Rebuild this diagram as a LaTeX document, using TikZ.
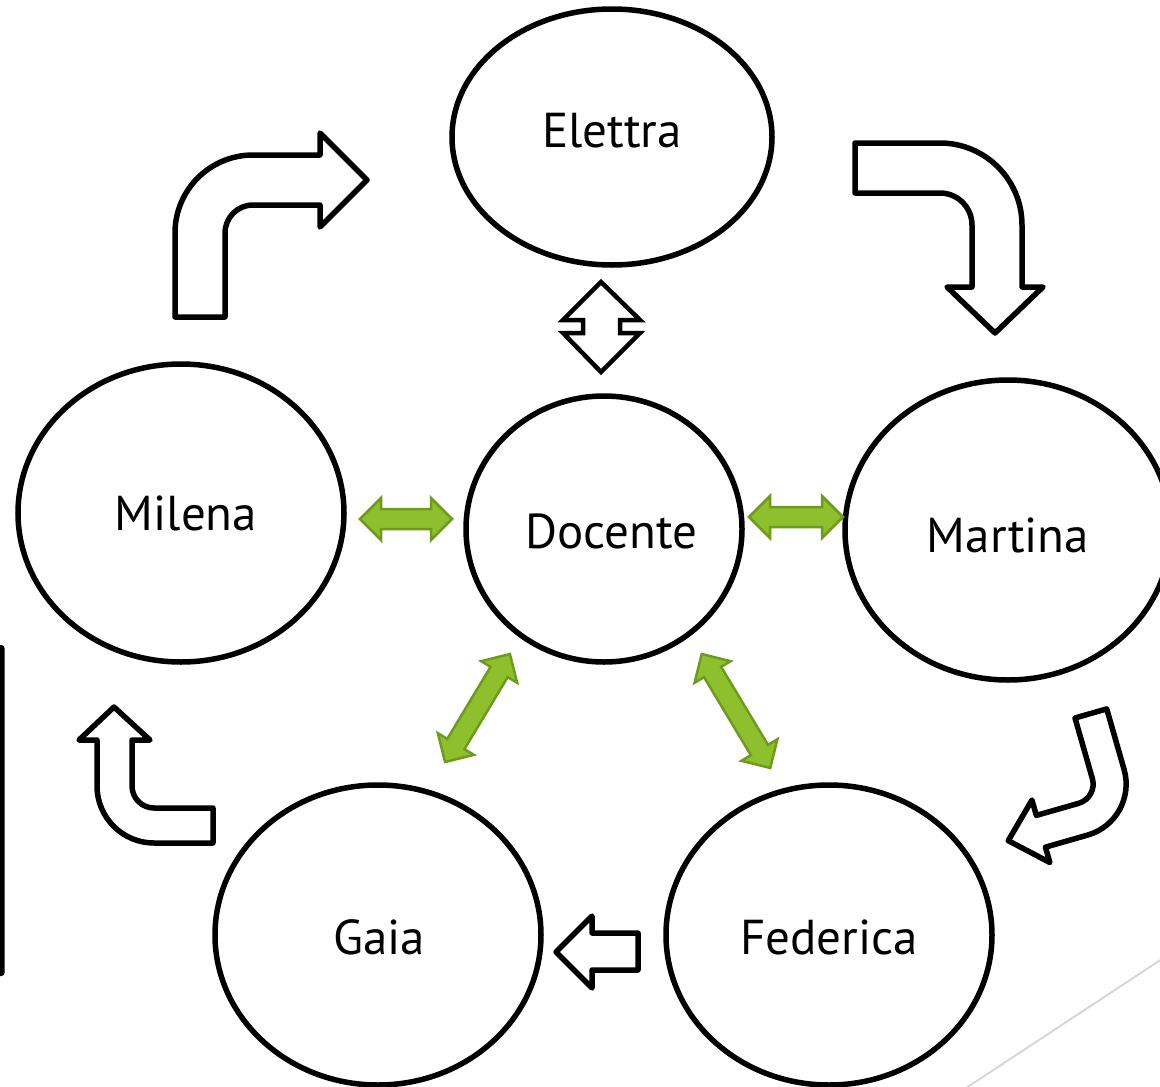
\documentclass[tikz,border=0pt]{standalone}
\usepackage{fontspec}
\setmainfont{PT Sans}
\usetikzlibrary{shapes.geometric}
\definecolor{gfill}{RGB}{141,192,44}
\definecolor{gedge}{RGB}{110,155,30}
\definecolor{decogrey}{RGB}{215,215,215}
\tikzset{
  person/.style={ellipse, draw=black, line width=5.5pt, fill=white, inner sep=0pt},
  nametext/.style={inner sep=0pt, font=\fontsize{49}{58}\selectfont},
  bentarrow/.style={draw=black, line width=5.5pt, line join=round, fill=white},
  garrow/.pic={
    \pgfmathsetmacro{\hl}{#1/2}
    \pgfmathsetmacro{\hb}{#1/2-21}
    \path[fill=gfill, draw=gedge, line width=2.5pt, line join=miter]
      (-\hl,0) -- (-\hb,-21) -- (-\hb,-10) -- (\hb,-10) -- (\hb,-21) -- (\hl,0)
      -- (\hb,21) -- (\hb,10) -- (-\hb,10) -- (-\hb,21) -- cycle;
  }
}
\begin{document}
\begin{tikzpicture}[x=1pt,y=-1pt]
\useasboundingbox (0,0) rectangle (1160,1087);
% theme decorations
\fill[black, rounded corners=3pt] (-6,645) rectangle (4.5,976);
\draw[decogrey, line width=2pt] (963,1090) -- (1165,957);

% people
\node[person, minimum width=320pt, minimum height=256pt] (ele) at (612,137) {};
\node[person, minimum width=276pt, minimum height=266pt] (doc) at (604,529) {};
\node[person, minimum width=326pt, minimum height=298pt] (mil) at (181,513) {};
\node[person, minimum width=326pt, minimum height=300pt] (mar) at (1008,530) {};
\node[person, minimum width=326pt, minimum height=300pt] (gai) at (378,935) {};
\node[person, minimum width=326pt, minimum height=300pt] (fed) at (829,935) {};
\node[nametext] (eleT) at (612,131) {Elettra};
\node[nametext] (docT) at (611,531) {Docente};
\node[nametext] (milT) at (186,513) {Milena};
\node[nametext] (marT) at (1008,535) {Martina};
\node[nametext] (gaiT) at (379,937) {Gaia};
\node[nametext] (fedT) at (829,937) {Federica};

% black cycle arrows
\path[bentarrow] (175,317) -- (175,233) arc[start angle=180,end angle=270,radius=78]
  -- (320,155) -- (320,133) -- (367,180) -- (320,227) -- (320,205) -- (253,205)
  arc[start angle=270,end angle=180,radius=28] -- (225,317) -- cycle;
\path[bentarrow] (855,143) -- (940,143) arc[start angle=270,end angle=360,radius=82]
  -- (1022,287) -- (1043,287) -- (995,333) -- (947,287) -- (972,287) -- (972,225)
  arc[start angle=360,end angle=270,radius=32] -- (855,193) -- cycle;
\begin{scope}[shift={(1075,718)}, rotate=16]
\path[bentarrow] (0,0) -- (0,63) arc[start angle=0,end angle=90,radius=20]
  -- (-64,83) -- (-64,67) -- (-98,99.5) -- (-64,132) -- (-64,116) -- (-20,116)
  arc[start angle=90,end angle=0,radius=53] -- (33,0) -- cycle;
\end{scope}
\path[bentarrow] (556,952) -- (592,916) -- (592,933) -- (638,933) -- (638,970)
  -- (592,970) -- (592,988) -- cycle;
\path[bentarrow] (114,707) -- (150,740) -- (132,740) -- (132,786)
  arc[start angle=180,end angle=90,radius=22] -- (213,808) -- (213,843) -- (154,843)
  arc[start angle=90,end angle=180,radius=57] -- (97,740) -- (79,740) -- cycle;

% up-down arrow Elettra <-> Docente
\path[draw=black, line width=4.5pt, line join=miter, fill=white]
  (601,282) -- (640,320) -- (620,320) -- (620,333) -- (640,333) -- (601,372)
  -- (563,333) -- (583,333) -- (583,320) -- (563,320) -- cycle;

% green double arrows
\pic (g1) at (406,519) {garrow=92};
\pic (g2) at (796,517) {garrow=94};
\pic[rotate=59] (g3) at (477.5,708) {garrow=126};
\pic[rotate=-59] (g4) at (736,711) {garrow=133};
\end{tikzpicture}
\end{document}
